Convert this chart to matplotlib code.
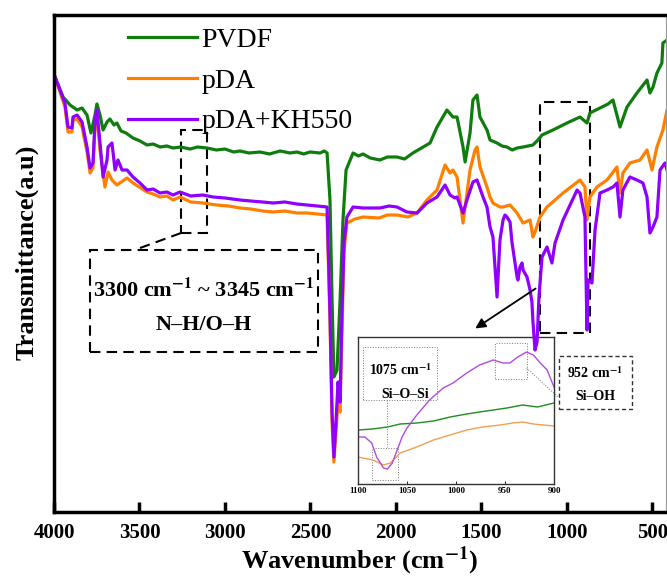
import numpy as np
import matplotlib.pyplot as plt
from matplotlib.patches import Rectangle

plt.rcParams['font.family'] = ['Liberation Serif', 'DejaVu Serif']
plt.rcParams['mathtext.fontset'] = 'stix'

# FTIR spectra (wavenumber in cm-1, transmittance in arbitrary units)
pvdf_wn = [3994, 3947, 3906, 3865, 3836, 3807, 3784, 3760, 3749, 3731, 3713, 3690, 3673, 3649,
           3632, 3608, 3579, 3538, 3497, 3456, 3420, 3380, 3340, 3304, 3260, 3205, 3160, 3105,
           3050, 3000, 2950, 2912, 2860, 2795, 2740, 2678, 2620, 2579, 2540, 2503, 2444, 2420,
           2403, 2386, 2374, 2363, 2345, 2327, 2310, 2292, 2251, 2220, 2193, 2150, 2094, 2050,
           1994, 1950, 1901, 1801, 1760, 1702, 1667, 1643, 1608, 1596, 1567, 1550, 1526, 1509,
           1468, 1450, 1409, 1380, 1351, 1320, 1292, 1257, 1199, 1170, 1146, 1082, 1000, 924,
           883, 866, 807, 760, 731, 690, 649, 591, 532, 515, 497, 474, 445, 439, 415]
pvdf_t = [435, 415, 407, 402, 404, 397, 379, 397, 408, 397, 382, 390, 393, 387,
          389, 381, 379, 374, 371, 367, 368, 365, 366, 364, 365, 363, 365, 364,
          362, 363, 360, 361, 359, 360, 358, 361, 359, 360, 358, 360, 359, 361,
          359, 312, 212, 135, 142, 212, 292, 342, 359, 356, 358, 354, 352, 355,
          355, 353, 359, 369, 385, 402, 395, 395, 365, 350, 379, 412, 417, 395,
          382, 372, 369, 366, 365, 362, 364, 365, 367, 372, 377, 382, 389, 395,
          389, 399, 404, 408, 412, 385, 405, 419, 432, 419, 425, 439, 449, 469, 472]

pda_wn = [3994, 3965, 3936, 3918, 3895, 3889, 3865, 3836, 3807, 3789, 3772, 3760, 3749, 3731,
          3702, 3684, 3661, 3632, 3573, 3538, 3456, 3420, 3380, 3340, 3304, 3263, 3200, 3129,
          3050, 2980, 2912, 2850, 2780, 2719, 2650, 2580, 2520, 2460, 2403, 2386, 2374, 2363,
          2351, 2339, 2327, 2316, 2304, 2287, 2240, 2193, 2100, 2050, 1994, 1930, 1877, 1819,
          1760, 1713, 1684, 1667, 1643, 1608, 1567, 1538, 1526, 1509, 1468, 1450, 1433, 1392,
          1374, 1333, 1292, 1257, 1216, 1199, 1187, 1158, 1117, 1023, 924, 895, 883, 866, 825,
          766, 708, 690, 673, 632, 573, 532, 503, 474, 439, 415]
pda_t = [435, 420, 405, 380, 380, 392, 393, 385, 360, 339, 344, 385, 397, 362,
         325, 340, 332, 327, 334, 329, 320, 318, 315, 316, 312, 315, 310, 309,
         307, 306, 304, 303, 301, 300, 301, 299, 299, 298, 297, 190, 90, 50,
         80, 110, 100, 180, 260, 289, 293, 295, 294, 297, 297, 295, 299, 312,
         322, 347, 339, 342, 335, 289, 342, 362, 365, 345, 325, 315, 309, 305,
         305, 307, 299, 289, 292, 275, 280, 295, 305, 319, 332, 325, 292, 315, 325,
         332, 345, 319, 339, 349, 352, 362, 342, 365, 382, 402]

kh_wn = [3994, 3965, 3936, 3918, 3895, 3889, 3865, 3836, 3807, 3789, 3772, 3760, 3749, 3731,
         3713, 3690, 3684, 3661, 3643, 3626, 3602, 3573, 3538, 3497, 3456, 3420, 3380, 3340,
         3304, 3263, 3200, 3129, 3070, 3000, 2912, 2850, 2780, 2719, 2650, 2580, 2520, 2460,
         2403, 2386, 2374, 2363, 2351, 2339, 2327, 2316, 2304, 2287, 2251, 2193, 2094, 2040,
         1994, 1936, 1877, 1819, 1760, 1713, 1684, 1655, 1643, 1608, 1585, 1550, 1526, 1491,
         1468, 1450, 1433, 1409, 1392, 1374, 1363, 1351, 1333, 1322, 1292, 1287, 1275, 1263,
         1257, 1234, 1216, 1205, 1199, 1187, 1175, 1164, 1146, 1117, 1088, 1070, 1023, 941,
         924, 895, 883, 877, 854, 836, 807, 766, 731, 708, 690, 673, 632, 591, 556, 532,
         515, 497, 474, 456, 427, 415]
kh_t = [435, 422, 409, 385, 384, 395, 397, 390, 365, 344, 349, 392, 402, 369,
        335, 352, 365, 369, 342, 352, 342, 342, 335, 329, 322, 323, 319, 320,
        317, 320, 316, 317, 315, 314, 312, 311, 310, 309, 310, 308, 307, 306,
        305, 200, 100, 55, 90, 130, 110, 200, 270, 295, 305, 304, 304, 306,
        305, 300, 299, 309, 315, 327, 317, 314, 315, 299, 312, 330, 332, 315,
        305, 285, 275, 215, 272, 292, 297, 295, 290, 270, 235, 232, 245, 249,
        242, 235, 222, 210, 190, 162, 170, 215, 255, 265, 249, 269, 292, 322,
        319, 295, 182, 232, 229, 282, 319, 322, 325, 329, 295, 322, 335, 332, 329, 315,
        279, 285, 295, 342, 349, 342]

# zoomed region 1100-900 cm-1
in_pvdf_wn = [1100, 1085, 1070, 1057, 1040, 1023, 1006, 989, 976, 962, 948, 932, 917, 900]
in_pvdf_t = [54, 55, 57, 60, 61, 63, 67, 70, 72, 74, 76, 79, 77, 81]
in_pda_wn = [1100, 1085, 1074, 1067, 1057, 1040, 1023, 1006, 989, 973, 955, 942, 932, 921, 900]
in_pda_t = [27, 24, 19, 21, 31, 37, 44, 49, 54, 57, 59, 61, 62, 60, 58]
in_kh_wn = [1100, 1093, 1086, 1081, 1074, 1070, 1065, 1060, 1055, 1050, 1040, 1027, 1013, 1003,
            989, 976, 962, 952, 945, 937, 928, 921, 914, 907, 900]
in_kh_t = [47, 47, 41, 27, 16, 15, 21, 34, 47, 56, 69, 84, 96, 101,
           111, 119, 124, 121, 121, 127, 132, 129, 121, 114, 97]

green = '#0e7d0e'
orange = '#ff8000'
purple = '#8f00ff'

fig = plt.figure(figsize=(6.67, 5.77), dpi=100)
ax = fig.add_axes([54 / 667, 65 / 577, 612 / 667, 497 / 577])

ax.plot(pvdf_wn, pvdf_t, color=green, lw=2.3, label='PVDF')
ax.plot(pda_wn, pda_t, color=orange, lw=2.3, label='pDA')
ax.plot(kh_wn, kh_t, color=purple, lw=2.3, label='pDA+KH550')

ax.set_xlim(4000, 421)
ax.set_ylim(0, 497)
ax.set_xticks(np.arange(4000, 499, -500))
ax.set_yticks([])
ax.tick_params(axis='x', direction='in', length=7, width=2.5, labelsize=15, pad=8)
for lbl in ax.get_xticklabels():
    lbl.set_fontweight('bold')
for s in ['left', 'bottom', 'top']:
    ax.spines[s].set_linewidth(2.5)
ax.spines['right'].set_linewidth(0.8)
ax.spines['right'].set_color('#999999')

ax.set_xlabel('Wavenumber (cm$^{\\mathbf{-1}}$)', fontsize=19, fontweight='bold', labelpad=1)
ax.set_ylabel('Transmittance(a.u)', fontsize=19, fontweight='bold')
ax.yaxis.set_label_coords(-0.025, 0.523)

ax.legend(loc='upper left', bbox_to_anchor=(0.121, 0.975), frameon=False, fontsize=20,
          handlelength=2.5, handletextpad=0.15, labelspacing=0.55, borderpad=0, borderaxespad=0)

# N-H/O-H annotation
dash = (0, (5, 3))
ax.add_patch(Rectangle((3257, 279), -152, 103, fill=False, ls=dash, lw=1.5, color='black'))
ax.plot([3257, 3497], [279, 264], ls=dash, lw=1.5, color='black')
ax.add_patch(Rectangle((3789, 160), -1333, 102, fill=False, ls=dash, lw=1.5, color='black'))
ax.text(3123, 222, '3300 cm$^{\\mathbf{-1}}$ ~ 3345 cm$^{\\mathbf{-1}}$', fontsize=16,
        fontweight='bold', ha='center', va='center')
ax.text(3123, 187, 'N\u2013H/O\u2013H', fontsize=16, fontweight='bold', ha='center', va='center')

# Si region box and arrow
ax.add_patch(Rectangle((1158, 179), -292, 231, fill=False, ls=dash, lw=1.5, color='black'))
ax.annotate('', xy=(1550, 182), xytext=(1170, 225),
            arrowprops=dict(arrowstyle='-|>', color='black', lw=1.3, mutation_scale=15))

# 952 label box
ax.add_patch(Rectangle((1047, 103), -427, 53, fill=False, ls=(0, (3, 2)), lw=1.0, color='#333333'))
ax.text(836, 139, '952 cm$^{\\mathbf{-1}}$', fontsize=10, fontweight='bold', ha='center', va='center')
ax.text(836, 115, 'Si\u2013OH', fontsize=10, fontweight='bold', ha='center', va='center')

ax.set_zorder(2)
ax.patch.set_visible(False)

# inset
axi = fig.add_axes([358 / 667, 93 / 577, 196 / 667, 147 / 577])
axi.set_zorder(1)
axi.plot(in_pvdf_wn, in_pvdf_t, color='#1e8c1e', lw=1.0)
axi.plot(in_pda_wn, in_pda_t, color='#f0a050', lw=1.0)
axi.plot(in_kh_wn, in_kh_t, color='#b04ce0', lw=1.0)
axi.set_xlim(1100, 900)
axi.set_ylim(0, 147)
axi.set_xticks([1100, 1050, 1000, 950, 900])
axi.set_yticks([])
axi.tick_params(axis='x', direction='in', length=2, width=0.6, labelsize=6.5, pad=2)
for lbl in axi.get_xticklabels():
    lbl.set_fontweight('bold')
for s in axi.spines.values():
    s.set_linewidth(1.0)
    s.set_color('#333333')

dot = dict(ls=':', lw=0.7, color='#777777')
axi.add_patch(Rectangle((1086, 4), -27, 32, fill=False, **dot))
axi.add_patch(Rectangle((1095, 84), -76, 53, fill=False, **dot))
axi.plot([1070, 1070], [84, 37], **dot)
axi.add_patch(Rectangle((960, 105), -32, 36, fill=False, **dot))
axi.plot([928, 896], [116, 87], clip_on=False, **dot)
axi.text(1057, 114, '1075 cm$^{\\mathbf{-1}}$', fontsize=10, fontweight='bold', ha='center', va='center')
axi.text(1052, 90, 'Si\u2013O\u2013Si', fontsize=10, fontweight='bold', ha='center', va='center')

fig.savefig('out.png', dpi=100)
